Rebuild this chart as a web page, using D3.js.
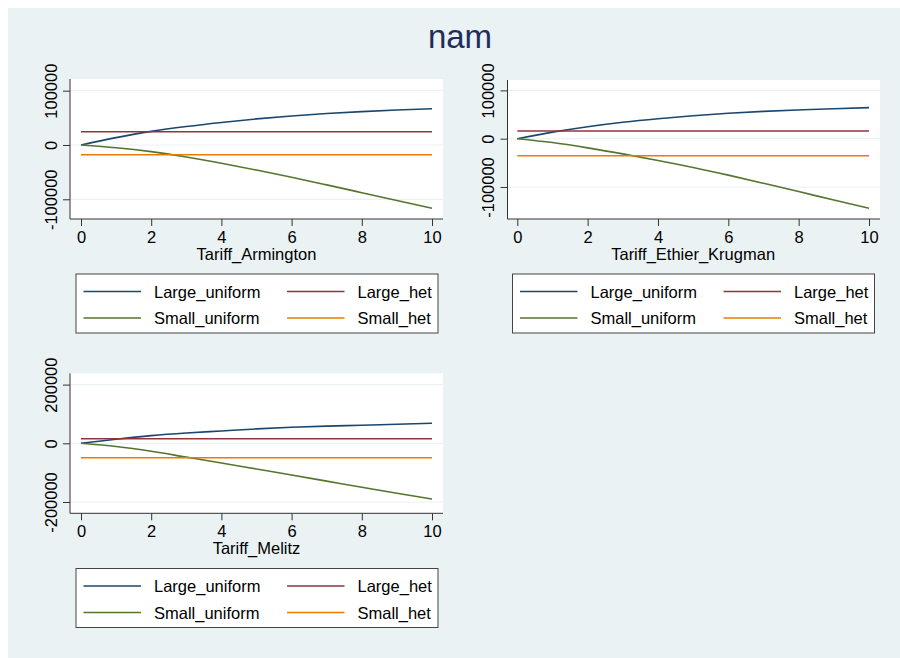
<!DOCTYPE html>
<html>
<head>
<meta charset="utf-8">
<script src="https://cdn.jsdelivr.net/npm/d3@7"></script>
<style>
  body { margin: 0; background: #fff; }
  text { font-family: "Liberation Sans", Arial, sans-serif; fill: #000; }
</style>
</head>
<body>
<div id="chart"></div>
<script>
// data
var tariff = [0, 1, 2, 3, 4, 5, 6, 7, 8, 9, 10];

var armLargeUniform = [0, 13500, 25000, 34000, 41500, 48000, 53500, 58000, 61500, 64500, 66800];
var armLargeHet     = [24500, 24500, 24500, 24500, 24500, 24500, 24500, 24500, 24500, 24500, 24500];
var armSmallUniform = [0, -5000, -12300, -22000, -33700, -46200, -59500, -73500, -87800, -102200, -116600];
var armSmallHet     = [-17900, -17900, -17900, -17900, -17900, -17900, -17900, -17900, -17900, -17900, -17900];

var ekLargeUniform = [0, 13500, 24800, 34000, 41400, 47500, 52600, 56500, 59400, 62000, 64200];
var ekLargeHet     = [15900, 15900, 15900, 15900, 15900, 15900, 15900, 15900, 15900, 15900, 15900];
var ekSmallUniform = [0, -8000, -19000, -31500, -45000, -59500, -75500, -92300, -109500, -127000, -144100];
var ekSmallHet     = [-35200, -35200, -35200, -35200, -35200, -35200, -35200, -35200, -35200, -35200, -35200];

var melLargeUniform = [0, 14000, 26000, 35000, 42000, 49000, 54500, 58500, 61500, 65000, 68100];
var melLargeHet     = [15700, 15700, 15700, 15700, 15700, 15700, 15700, 15700, 15700, 15700, 15700];
var melSmallUniform = [0, -11000, -27000, -47000, -67000, -87500, -108000, -129000, -150000, -170000, -189800];
var melSmallHet     = [-49100, -49100, -49100, -49100, -49100, -49100, -49100, -49100, -49100, -49100, -49100];

var seriesNames = ["Large_uniform", "Large_het", "Small_uniform", "Small_het"];
var seriesColors = ["#1a476f", "#90353b", "#55752f", "#e37e00"];
var xTicks = [0, 2, 4, 6, 8, 10];
var yTicks1 = [-100000, 0, 100000];
var yTicks3 = [-200000, 0, 200000];

// svg
var w = 900, h = 658;
var svg = d3.select("#chart")
            .append("svg")
            .attr("width", w)
            .attr("height", h);

// graph region background
svg.append("rect")
   .attr("x", 8).attr("y", 8)
   .attr("width", w - 8).attr("height", h - 8)
   .attr("fill", "#eaf2f3");

// title
svg.append("text")
   .attr("x", 460)
   .attr("y", 48)
   .attr("text-anchor", "middle")
   .style("font-size", "33px")
   .style("fill", "#1f2d5c")
   .text("nam");

var panels = [
  {xTitle: "Tariff_Armington", left: 70, right: 443, top: 79, bottom: 219, x0: 81, x1: 432,
   yDomain: [-136300, 121500], yTicks: yTicks1, legendLeft: 76, legendTop: 274,
   series: [armLargeUniform, armLargeHet, armSmallUniform, armSmallHet]},
  {xTitle: "Tariff_Ethier_Krugman", left: 507.5, right: 880, top: 80, bottom: 219, x0: 517.3, x1: 869,
   yDomain: [-166300, 121500], yTicks: yTicks1, legendLeft: 512.5, legendTop: 274,
   series: [ekLargeUniform, ekLargeHet, ekSmallUniform, ekSmallHet]},
  {xTitle: "Tariff_Melitz", left: 70, right: 443, top: 373.3, bottom: 513.3, x0: 81, x1: 432,
   yDomain: [-238500, 238500], yTicks: yTicks3, legendLeft: 76, legendTop: 568.5,
   series: [melLargeUniform, melLargeHet, melSmallUniform, melSmallHet]}
];

panels.forEach(function(p) {
  var g = svg.append("g");

  var xScale = d3.scaleLinear().domain([0, 10]).range([p.x0, p.x1]);
  var yScale = d3.scaleLinear().domain(p.yDomain).range([p.bottom, p.top]);

  // plot region
  g.append("rect")
   .attr("x", p.left).attr("y", p.top)
   .attr("width", p.right - p.left).attr("height", p.bottom - p.top)
   .attr("fill", "#fff");

  // gridlines
  g.selectAll(".grid")
   .data(p.yTicks)
   .enter()
   .append("line")
   .attr("x1", p.left).attr("x2", p.right)
   .attr("y1", (d) => yScale(d)).attr("y2", (d) => yScale(d))
   .attr("stroke", "#eaf2f3")
   .attr("stroke-width", 1.2);

  // lines
  var line = d3.line()
               .x((d, i) => xScale(tariff[i]))
               .y((d) => yScale(d))
               .curve(d3.curveMonotoneX);

  p.series.forEach(function(s, i) {
    g.append("path")
     .datum(s)
     .attr("d", line)
     .attr("fill", "none")
     .attr("stroke", seriesColors[i])
     .attr("stroke-width", 1.6);
  });

  // x axis
  var xAxis = d3.axisBottom(xScale)
                .tickValues(xTicks)
                .tickSize(7)
                .tickSizeOuter(0)
                .tickPadding(5);
  var xg = g.append("g")
            .attr("transform", "translate(0," + p.bottom + ")")
            .call(xAxis);
  xg.select(".domain").remove();
  xg.selectAll("line").attr("stroke", "#333");
  xg.selectAll("text").style("font-size", "16.5px").attr("font-family", null);
  g.append("line")
   .attr("x1", p.left).attr("x2", p.right)
   .attr("y1", p.bottom).attr("y2", p.bottom)
   .attr("stroke", "#333");

  // y axis (plain hyphen for negatives, like the original)
  var yAxis = d3.axisLeft(yScale)
                .tickValues(p.yTicks)
                .tickSize(7)
                .tickSizeOuter(0)
                .tickFormat((d) => String(d));
  var yg = g.append("g")
            .attr("transform", "translate(" + p.left + ",0)")
            .call(yAxis);
  yg.select(".domain").remove();
  yg.selectAll("line").attr("stroke", "#333");
  yg.selectAll("text")
    .attr("font-family", null)
    .style("font-size", "16.5px")
    .attr("x", 0).attr("dy", null)
    .attr("text-anchor", "middle")
    .attr("transform", "translate(-13.5,0) rotate(-90)");
  g.append("line")
   .attr("x1", p.left).attr("x2", p.left)
   .attr("y1", p.top).attr("y2", p.bottom)
   .attr("stroke", "#333");

  // axis title
  g.append("text")
   .attr("x", (p.x0 + p.x1) / 2)
   .attr("y", p.bottom + 41)
   .attr("text-anchor", "middle")
   .style("font-size", "16.5px")
   .text(p.xTitle);

  // legend
  var lg = g.append("g")
            .attr("transform", "translate(" + p.legendLeft + "," + p.legendTop + ")");
  lg.append("rect")
    .attr("x", 0).attr("y", 0)
    .attr("width", 362).attr("height", 59)
    .attr("fill", "#fff")
    .attr("stroke", "#444");

  var items = lg.selectAll(".item")
                .data(seriesNames)
                .enter()
                .append("g")
                .attr("transform", (d, i) => "translate(" + (i % 2 ? 203.5 : 0) + "," + (i < 2 ? 17.5 : 44) + ")");
  items.append("line")
       .attr("x1", 7.5).attr("x2", 65)
       .attr("y1", 0).attr("y2", 0)
       .attr("stroke", (d, i) => seriesColors[i])
       .attr("stroke-width", 1.6);
  items.append("text")
       .attr("x", 78)
       .attr("y", 6)
       .style("font-size", "16.5px")
       .text((d) => d);
});
</script>
</body>
</html>
